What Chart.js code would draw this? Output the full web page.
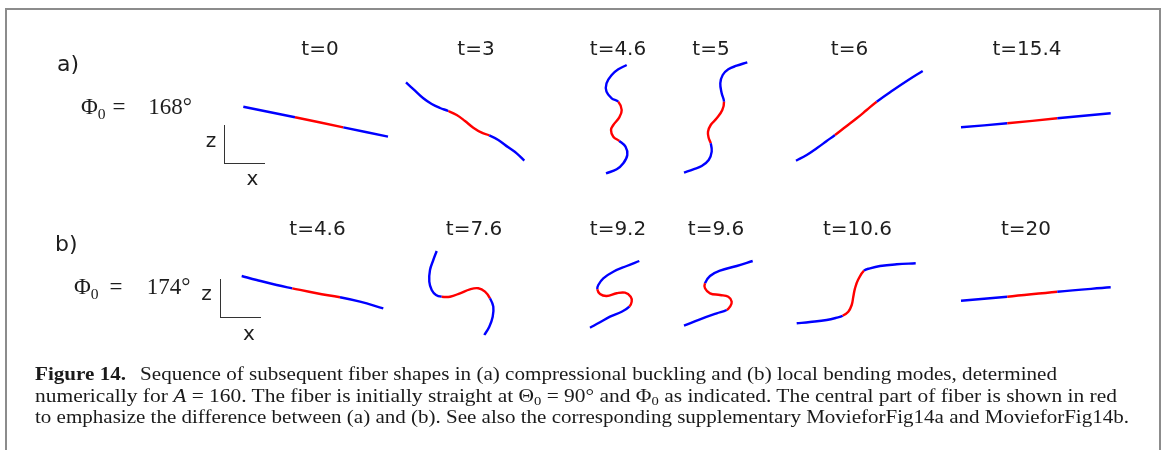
<!DOCTYPE html>
<html>
<head>
<meta charset="utf-8">
<script src="https://cdn.jsdelivr.net/npm/chart.js@4.4.1/dist/chart.umd.min.js"></script>
<style>
  html, body { margin: 0; padding: 0; background: #fff; }
  #fig { position: relative; width: 1165px; height: 450px; overflow: hidden; background: #fff; }
  #frame { position: absolute; left: 5px; top: 8px; width: 1156px; height: 470px;
           box-sizing: border-box; border: 2px solid #8c8c8c; border-bottom: none; }
  #plot { position: absolute; left: 0; top: 0; width: 1165px; height: 450px; }
  .lbl { position: absolute; white-space: nowrap; line-height: 1; color: #1e1e1e; }
  .sans { font-family: "DejaVu Sans", sans-serif; }
  .serif { font-family: "Liberation Serif", "DejaVu Serif", serif; }
  .axisglyph { position: absolute; border-left: 1.6px solid #333; border-bottom: 1.6px solid #333; box-sizing: border-box; }
  .cap { position: absolute; left: 35px; white-space: nowrap; font-family: "Liberation Serif", serif;
         font-size: 18px; line-height: 1; color: #1a1a1a; transform-origin: 0 0; }
  .cap sub { font-size: 0.68em; vertical-align: -0.25em; line-height: 0; }
  .phi sub { font-size: 0.68em; vertical-align: -0.3em; line-height: 0; }
</style>
</head>
<body>
<div id="fig">
  <div id="frame"></div>
  <canvas id="plot" width="1165" height="450"></canvas>
</div>
<script>
// Snapshot times shown above each fiber
const timesA = ['t=0', 't=3', 't=4.6', 't=5', 't=6', 't=15.4'];
const timesB = ['t=4.6', 't=7.6', 't=9.2', 't=9.6', 't=10.6', 't=20'];
const phi0 = [168, 174];
const rowNames = ['a)', 'b)'];

// Fiber centre lines in local (x, z) coordinates about each snapshot centre
const fiberA0 = [[-69.7, 13.3], [-18, 2.7], [30.3, -7.3], [75, -16.7]];
const fiberA1 = [[-57, 37.7], [-48, 29.3], [-39.7, 21.7], [-31.3, 16], [-23, 12], [-14.7, 9],
                 [-6.3, 5], [2, -1], [10.3, -7.7], [18.7, -12.7], [26.3, -15.3],
                 [35.3, -20], [45.3, -27.3], [53.7, -33.3], [61.3, -40.7]];
const fiberA2 = [[10.7, 55], [2.3, 50.7], [-4.3, 45], [-9.5, 36.7], [-9.5, 28.3], [-4.3, 21.7], [2.3, 18.3],
                 [5.7, 10], [3.3, 2.7], [-2.7, -5], [-5, -10], [-2.7, -16.7], [3.3, -21],
                 [9.5, -26.7], [11.3, -35], [7.3, -43.3], [0.7, -49.3], [-10, -53.3]];
const fiberA3 = [[30.3, 57.7], [19.7, 54.3], [11.3, 50.7], [5.7, 45], [3.3, 36.7], [4.7, 26.7], [7, 18.3],
                 [5.3, 10], [-0.3, 1.7], [-6.3, -5], [-9, -11.7], [-8.3, -18], [-6.3, -23.3],
                 [-5.3, -31.7], [-8.3, -40], [-15.3, -46], [-23.7, -49.3], [-33, -52.7]];
const fiberA4 = [[-61, -40.7], [-50.3, -35], [-40.3, -28.3], [-30.3, -21], [-22, -15],
                 [-11.3, -6.7], [-0.3, 1.7], [9.7, 10], [19.7, 18.3],
                 [36.3, 30], [51.3, 40], [65.7, 49]];
const fiberA5 = [[-75, -7.3], [-28.7, -3.3], [21.3, 1.7], [74.7, 6.7]];

const fiberB0 = [[-71.3, 17], [-56.3, 13], [-36.3, 8], [-20.7, 4.7], [3.7, -0.3], [27, -4.3],
                 [47, -8.7], [70.3, -15.3]];
const fiberB1 = [[-26.3, 42], [-29.7, 33], [-33, 23], [-33.7, 11.3], [-31.3, 3], [-27, -2], [-21.3, -3.7],
                 [-13, -3.7], [-3, -0.3], [7, 3.7], [15.3, 4.7], [22, 1.3], [27, -5.3],
                 [30.3, -13.7], [29.7, -23.7], [26.3, -33.7], [21.3, -42]];
const fiberB2 = [[23.3, 32], [10.7, 27], [-2.7, 21.3], [-12.7, 14.7], [-17.7, 8], [-18.7, 3.7],
                 [-16, -1], [-9.3, -3], [0.7, -0.3], [9, 0.3], [14.7, -3.7], [15.7, -8.7], [13.3, -13.7],
                 [5.7, -18.7], [-6, -23.7], [-16, -29.3], [-26, -34.7]];
const fiberB3 = [[35.7, 32], [19.7, 27], [3, 22.3], [-7, 17], [-12, 9.7],
                 [-12, 4.7], [-7, -0.3], [3, -2], [11.3, -3.7], [14.7, -8.7], [13, -13.7], [9.7, -17],
                 [-0.3, -20.3], [-17, -26.3], [-33, -32.7]];
const fiberB4 = [[-60.3, -30.3], [-47, -29], [-30.3, -27], [-20.3, -24.7], [-14.3, -22.7],
                 [-8.7, -18.7], [-5.3, -12], [-3.7, -3.7], [-2, 4.7], [1.3, 13.7], [7, 22.3],
                 [13, 24.7], [23, 27], [39.7, 28.7], [58.7, 29.7]];
const fiberB5 = [[-75, -7.7], [-28.7, -3.7], [21.3, 1.3], [74.7, 5.7]];

// Index range (first, last point) of the red central part of each fiber
const centralA = [[1, 2], [5, 10], [6, 12], [6, 12], [4, 8], [1, 2]];
const centralB = [[3, 5], [6, 12], [5, 12], [4, 11], [4, 10], [1, 2]];

const fibersA = [fiberA0, fiberA1, fiberA2, fiberA3, fiberA4, fiberA5];
const fibersB = [fiberB0, fiberB1, fiberB2, fiberB3, fiberB4, fiberB5];

// Layout: snapshot centres on the page (x per column, y per row)
const colX = [313, 463, 616, 717, 857, 1036];
const rowY = [120, 293];
const labelXA = [320, 476, 618, 711, 849.5, 1027];
const labelXB = [317.5, 474, 618, 716, 857.5, 1026];
const labelBaseline = [54.5, 235];
const BLUE = '#0000ff', RED = '#ff0000';

const datasets = [];
[[fibersA, centralA], [fibersB, centralB]].forEach(([row, central], r) => {
  row.forEach((fiber, c) => {
    const [r0, r1] = central[c];
    datasets.push({
      data: fiber.map(([dx, dz]) => ({ x: colX[c] + dx, y: rowY[r] - dz })),
      showLine: true,
      borderColor: BLUE,
      borderWidth: 2.4,
      pointRadius: 0,
      pointHoverRadius: 0,
      tension: 0.4,
      fill: false,
      segment: {
        borderColor: ctx => (ctx.p0DataIndex >= r0 && ctx.p1DataIndex <= r1) ? RED : BLUE
      }
    });
  });
});

new Chart(document.getElementById('plot'), {
  type: 'scatter',
  data: { datasets },
  options: {
    responsive: false,
    animation: false,
    devicePixelRatio: 1,
    layout: { padding: 0 },
    events: [],
    plugins: { legend: { display: false }, tooltip: { enabled: false } },
    scales: {
      x: { type: 'linear', min: 0, max: 1165, display: false },
      y: { type: 'linear', min: 0, max: 450, reverse: true, display: false }
    }
  }
});

// Text helpers: place text by its baseline
const fig = document.getElementById('fig');
function addText(html, x, baseline, cls, size, align) {
  const d = document.createElement('div');
  d.className = 'lbl ' + cls;
  d.style.fontSize = size + 'px';
  d.innerHTML = html;
  d.style.top = (baseline - 0.84 * size) + 'px';
  d.style.left = x + 'px';
  if (align === 'center') d.style.transform = 'translateX(-50%)';
  fig.appendChild(d);
  return d;
}

timesA.forEach((t, i) => addText(t, labelXA[i], labelBaseline[0], 'sans', 20, 'center'));
timesB.forEach((t, i) => addText(t, labelXB[i], labelBaseline[1], 'sans', 20, 'center'));

addText(rowNames[0], 57, 71, 'sans', 22);
addText(rowNames[1], 55, 251.5, 'sans', 22);

// Φ0 labels
const phiPos = [
  { x: 81, eq: 112.5, num: 148.3, base: 114.5 },
  { x: 74, eq: 109.5, num: 146.7, base: 294.5 }
];
phi0.forEach((v, i) => {
  const p = phiPos[i];
  addText('Φ<sub>0</sub>', p.x, p.base, 'serif phi', 23);
  addText('=', p.eq, p.base, 'serif', 23);
  addText(v + '°', p.num, p.base, 'serif', 23);
});

// z / x orientation glyphs
const glyphs = [
  { x: 223.5, top: 125, w: 41, h: 39, zx: 211, zb: 146.7, xx: 252.5, xb: 185 },
  { x: 219.5, top: 279, w: 41, h: 39, zx: 206.5, zb: 300, xx: 249, xb: 340 }
];
glyphs.forEach(g => {
  const d = document.createElement('div');
  d.className = 'axisglyph';
  Object.assign(d.style, { left: g.x + 'px', top: g.top + 'px', width: g.w + 'px', height: g.h + 'px' });
  fig.appendChild(d);
  addText('z', g.zx, g.zb, 'sans', 20, 'center');
  addText('x', g.xx, g.xb, 'sans', 20, 'center');
});

// Caption
const captionLines = [
  '<b>Figure 14.</b><span style="display:inline-block;width:12px"></span>Sequence of subsequent fiber shapes in (a) compressional buckling and (b) local bending modes, determined',
  'numerically for <i>A</i> = 160. The fiber is initially straight at Θ<sub>0</sub> = 90° and Φ<sub>0</sub> as indicated. The central part of fiber is shown in red',
  'to emphasize the difference between (a) and (b). See also the corresponding supplementary MovieforFig14a and MovieforFig14b.'
];
const captionBase = [380, 401.7, 423.3];
const captionRight = [1057, 1117, 1129];
const capEls = captionLines.map((html, i) => {
  const d = document.createElement('div');
  d.className = 'cap';
  d.innerHTML = html;
  d.style.top = (captionBase[i] - 0.84 * 18) + 'px';
  fig.appendChild(d);
  return d;
});
function fitCaption() {
  capEls.forEach((d, i) => {
    d.style.transform = 'none';
    const w = d.getBoundingClientRect().width;
    const target = captionRight[i] - 35;
    if (w > 0) d.style.transform = 'scaleX(' + (target / w) + ')';
  });
}
fitCaption();
if (document.fonts && document.fonts.ready) document.fonts.ready.then(fitCaption);
</script>
</body>
</html>
